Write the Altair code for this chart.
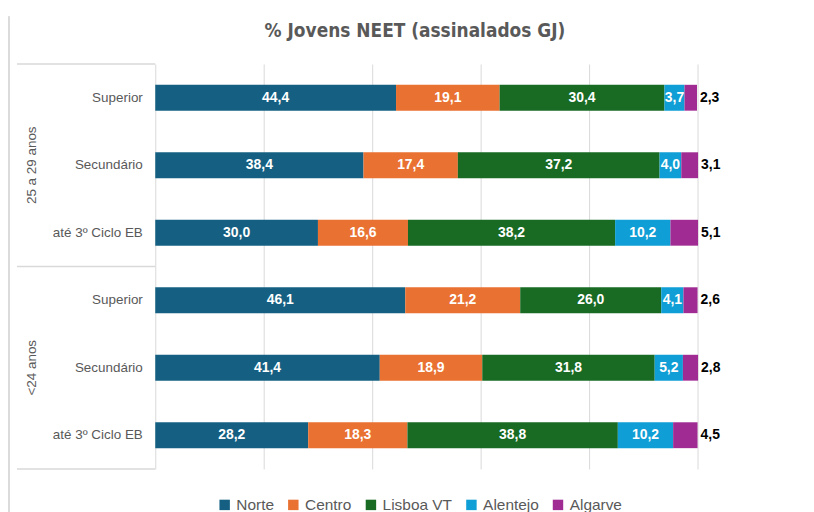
import altair as alt
import pandas as pd

# ---- data ----
grupos = ["25 a 29 anos", "25 a 29 anos", "25 a 29 anos", "<24 anos", "<24 anos", "<24 anos"]
niveis = ["Superior", "Secundário", "até 3º Ciclo EB", "Superior", "Secundário", "até 3º Ciclo EB"]
regioes = ["Norte", "Centro", "Lisboa VT", "Alentejo", "Algarve"]
cores = ["#156082", "#E97132", "#196B24", "#0F9ED5", "#A02B93"]
norte = [44.4, 38.4, 30.0, 46.1, 41.4, 28.2]
centro = [19.1, 17.4, 16.6, 21.2, 18.9, 18.3]
lisboa = [30.4, 37.2, 38.2, 26.0, 31.8, 38.8]
alentejo = [3.7, 4.0, 10.2, 4.1, 5.2, 10.2]
algarve = [2.3, 3.1, 5.1, 2.6, 2.8, 4.5]
grid_ticks = [0, 20, 40, 60, 80, 100, 120]
titulo = "% Jovens NEET (assinalados  GJ)"

series = [norte, centro, lisboa, alentejo, algarve]
keys = [f"{i}|{n}" for i, n in enumerate(niveis)]

rows = []
for r_i, reg in enumerate(regioes):
    for k_i, key in enumerate(keys):
        v = series[r_i][k_i]
        rows.append({"key": key, "grupo": grupos[k_i], "regiao": reg, "ordem": r_i,
                     "valor": v, "rotulo": f"{v:.1f}".replace(".", ",")})
df = pd.DataFrame(rows)

grp_df = pd.DataFrame({"key": [keys[1], keys[4]], "g": ["25 a 29 anos", "<24 anos"]})
sep_start = pd.DataFrame({"key": [keys[0], keys[3]]})
sep_end = pd.DataFrame({"key": [keys[5]]})
title_df = pd.DataFrame({"t": [titulo]})

GRAY = "#595959"
LINE = "#D9D9D9"
FONT = "Liberation Sans"

yscale = alt.Scale(domain=keys, paddingInner=0, paddingOuter=0)
xscale = alt.Scale(domain=[0, 120], nice=False)

base = alt.Chart(df).transform_stack(
    stack="valor", groupby=["key"], as_=["x0", "x1"], sort=[alt.SortField("ordem")]
).transform_calculate(mid="(datum.x0 + datum.x1) / 2")

bars = base.mark_bar(size=26).encode(
    x=alt.X("x0:Q", scale=xscale,
            axis=alt.Axis(values=grid_ticks, grid=True, gridColor=LINE, gridWidth=1,
                          labels=False, ticks=False, domain=False, title=None)),
    x2="x1:Q",
    y=alt.Y("key:N", scale=yscale,
            axis=alt.Axis(labelExpr="split(datum.label, '|')[1]", title=None, ticks=False,
                          domain=False, labelPadding=13, labelFontSize=13.5, labelColor=GRAY,
                          labelFont=FONT, labelFontWeight="normal")),
    color=alt.Color("regiao:N", scale=alt.Scale(domain=regioes, range=cores),
                    legend=alt.Legend(title=None, orient="none", direction="horizontal",
                                      legendX=62, legendY=435, symbolType="square",
                                      symbolSize=110, symbolStrokeWidth=0, labelFontSize=15.5,
                                      labelColor=GRAY, labelFont=FONT, columnPadding=11,
                                      labelOffset=4)),
    order=alt.Order("ordem:Q"),
)

inner = base.transform_filter("datum.ordem < 4").mark_text(
    color="white", fontWeight="bold", fontSize=14, font=FONT
).encode(x=alt.X("mid:Q", scale=xscale), y=alt.Y("key:N", scale=yscale), text="rotulo:N")

outer = base.transform_filter("datum.ordem == 4").mark_text(
    color="black", fontWeight="bold", fontSize=14, font=FONT, align="left", dx=3
).encode(x=alt.X("x1:Q", scale=xscale), y=alt.Y("key:N", scale=yscale), text="rotulo:N")

grp_text = alt.Chart(grp_df).mark_text(angle=270, fontSize=13.5, color=GRAY, font=FONT).encode(
    x=alt.value(-124), y=alt.Y("key:N", scale=yscale), text="g:N")

sep1 = alt.Chart(sep_start).mark_rule(color=LINE, strokeWidth=1.5).encode(
    x=alt.value(-139), x2=alt.value(0), y=alt.Y("key:N", scale=yscale, bandPosition=0))
sep2 = alt.Chart(sep_end).mark_rule(color=LINE, strokeWidth=1.5).encode(
    x=alt.value(-139), x2=alt.value(0), y=alt.Y("key:N", scale=yscale, bandPosition=1))

frame = alt.Chart(grp_df).mark_rule(color=LINE, strokeWidth=1.5).encode(
    x=alt.value(-147), y=alt.value(-48), y2=alt.value(452))

title_mark = alt.Chart(title_df).mark_text(
    fontSize=19, color=GRAY, font="DejaVu Sans Condensed", fontWeight="bold"
).encode(x=alt.value(261), y=alt.value(-33), text="t:N")

chart = alt.layer(bars, inner, outer, grp_text, sep1, sep2, frame, title_mark).properties(
    width=654, height=407,
    autosize=alt.AutoSizeParams(type="none"),
    padding={"left": 148, "top": 55, "right": 0, "bottom": 46},
).configure_view(stroke=None)

chart.save("out.html", embed_options={"renderer": "svg", "actions": False})
